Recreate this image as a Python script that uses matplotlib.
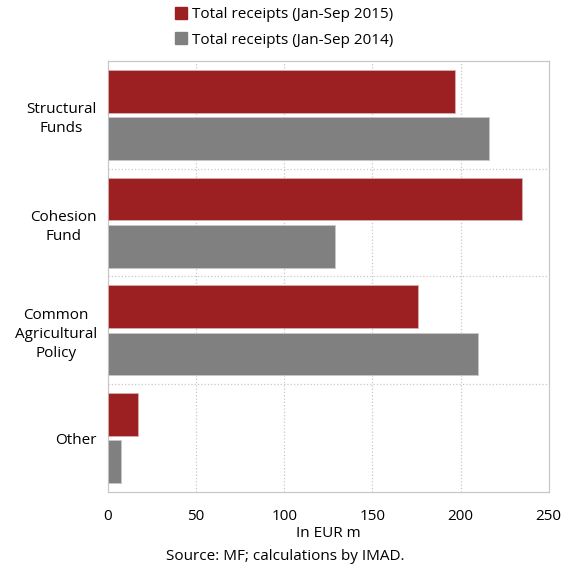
import matplotlib
matplotlib.use('Agg')
from matplotlib import pyplot as plt
from matplotlib.lines import Line2D
import numpy as np

plt.rcParams['font.family'] = ['Open Sans', 'DejaVu Sans']

categories = ['Structural\nFunds', 'Cohesion\nFund', 'Common\nAgricultural\nPolicy', 'Other']
receipts_2015 = [197, 235, 176, 17]
receipts_2014 = [216, 129, 210, 7.5]
label_2015 = 'Total receipts (Jan-Sep 2015)'
label_2014 = 'Total receipts (Jan-Sep 2014)'
xticks = [0, 50, 100, 150, 200, 250]

red = '#9c1f22'
grey = '#808080'
fs = 11

fig = plt.figure(figsize=(5.71, 5.66), dpi=100)
ax = fig.add_axes([0.189, 0.131, 0.772, 0.761])

y = np.arange(len(categories))
h = 0.395
ax.barh(y - 0.22, receipts_2015, height=h, color=red, edgecolor='#d8b0b0', linewidth=0.6, zorder=3)
ax.barh(y + 0.22, receipts_2014, height=h, color=grey, edgecolor='#c8c8c8', linewidth=0.6, zorder=3)

ax.set_ylim(len(categories) - 0.5, -0.5)
ax.set_xlim(0, 250)
ax.set_xticks(xticks)
ax.set_yticks(y)
ax.set_yticklabels(categories, ha='right', multialignment='center', linespacing=1.35)
ax.tick_params(length=0, labelsize=fs, colors='black')
ax.tick_params(axis='x', pad=12)
ax.tick_params(axis='y', pad=8)

for v in xticks[1:-1]:
    ax.axvline(v, color='#c8c8c8', linestyle=':', linewidth=0.9, zorder=1)
for s in y[:-1] + 0.5:
    ax.axhline(s, color='#c8c8c8', linestyle=':', linewidth=0.9, zorder=1)

for sp in ax.spines.values():
    sp.set_color('#c8c8c8')
    sp.set_linewidth(0.9)

ax.set_xlabel('In EUR m', fontsize=fs, labelpad=2)
fig.text(0.5, 0.017, 'Source: MF; calculations by IMAD.', ha='center', va='center', fontsize=fs)

handles = [Line2D([], [], marker='s', color=red, linestyle='none', markersize=8.5),
           Line2D([], [], marker='s', color=grey, linestyle='none', markersize=8.5)]
fig.legend(handles, [label_2015, label_2014], loc='upper center', bbox_to_anchor=(0.497, 1.012),
           frameon=False, fontsize=fs, handlelength=0.8, handletextpad=0.3, labelspacing=0.7)

fig.savefig('out.png', dpi=100)
